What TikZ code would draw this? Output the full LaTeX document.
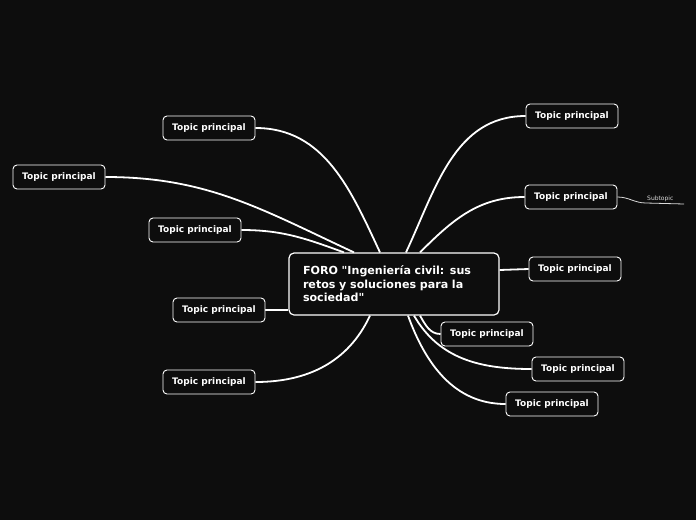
\documentclass[tikz,border=0pt]{standalone}
\usepackage{fontspec}
\setmainfont{DejaVu Sans}[Ligatures=TeXOff]
\usetikzlibrary{backgrounds}
\tikzset{
  topic/.style={draw=white, line width=0.9pt, rounded corners=4pt, fill=black!95,
    text=white, font=\bfseries\fontsize{9}{10}\selectfont,
    minimum width=92pt, minimum height=24pt, inner sep=2pt},
  mainbox/.style={draw=white, line width=1.2pt, rounded corners=5pt, fill=black!95,
    text=white, font=\bfseries\fontsize{11.1}{13.5}\selectfont, align=left,
    minimum width=210pt, minimum height=62pt, text width=182pt, inner xsep=14pt},
  branch/.style={draw=white, line width=1.8pt},
  twig/.style={draw=white!85!black, line width=0.8pt}
}
\begin{document}
\begin{tikzpicture}[x=1pt,y=1pt]
  \useasboundingbox (0,0) rectangle (696,-520);
  % central idea
  \node[mainbox] (main) at (394,-284) {FORO "Ingeniería civil: sus\\retos y soluciones para la\\sociedad"};

  % left topics
  \node[topic] (t1) at (209,-128) {Topic principal};
  \node[topic] (t2) at (59,-177) {Topic principal};
  \node[topic] (t3) at (195,-230) {Topic principal};
  \node[topic] (t4) at (219,-310) {Topic principal};
  \node[topic] (t5) at (209,-382) {Topic principal};

  % right topics
  \node[topic] (r1) at (572,-116) {Topic principal};
  \node[topic] (r2) at (571,-197) {Topic principal};
  \node[topic] (r3) at (575,-269) {Topic principal};
  \node[topic] (r4) at (487,-334) {Topic principal};
  \node[topic] (r5) at (578,-369) {Topic principal};
  \node[topic] (r6) at (552,-404) {Topic principal};

  \node[text=white!85!black, font=\fontsize{6}{7}\selectfont, anchor=south west, inner sep=1pt] (s1) at (646,-203) {Subtopic};
  \coordinate (s1end) at (684,-204);

  \begin{scope}[on background layer]
    \fill[black!95] (0,0) rectangle (696,-520);
    \draw[branch] ([xshift=-14pt]main.north) to[out=115,in=0] (t1.east);
    \draw[branch] ([xshift=-40pt]main.north) to[out=155,in=0] (t2.east);
    \draw[branch] ([xshift=-50pt]main.north) to[out=160,in=0] (t3.east);
    \draw[branch] (t4.east) -- ([yshift=-26pt]main.west);
    \draw[branch] ([xshift=-24pt]main.south) to[out=-115,in=0] (t5.east);
    \draw[branch] ([xshift=12pt]main.north) to[out=65,in=180] (r1.west);
    \draw[branch] ([xshift=26pt]main.north) to[out=45,in=180] (r2.west);
    \draw[branch] ([yshift=14pt]main.east) -- (r3.west);
    \draw[branch] ([xshift=26pt]main.south) to[out=-60,in=180] (r4.west);
    \draw[branch] ([xshift=20pt]main.south) to[out=-60,in=180] (r5.west);
    \draw[branch] ([xshift=14pt]main.south) to[out=-70,in=180] (r6.west);
    \draw[twig] (r2.east) to[out=0,in=180] (s1.south west) -- (s1end);
  \end{scope}
\end{tikzpicture}
\end{document}
